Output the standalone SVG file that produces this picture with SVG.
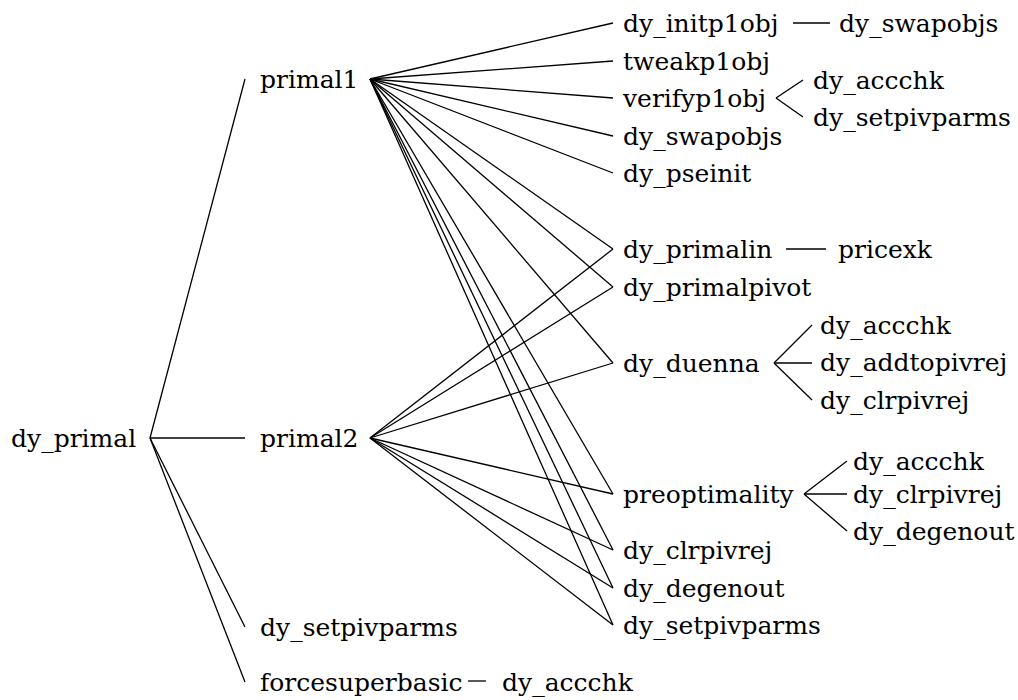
<svg xmlns="http://www.w3.org/2000/svg" width="1018" height="700" viewBox="0 0 1018 700">
<style>
text { font-family: "DejaVu Serif", "Liberation Serif", serif; font-size: 25px; fill: #000; }
.e line { stroke: #000; stroke-width: 1.3; fill: none; }
</style>
<rect width="1018" height="700" fill="#fff"/>
<g class="e" id="connectors">
<line x1="150" y1="438" x2="245" y2="79"/>
<line x1="150" y1="438" x2="245" y2="438"/>
<line x1="150" y1="438" x2="245" y2="627"/>
<line x1="150" y1="438" x2="245" y2="682"/>
<line x1="370" y1="79" x2="613" y2="23"/>
<line x1="370" y1="79" x2="613" y2="61"/>
<line x1="370" y1="79" x2="613" y2="98"/>
<line x1="370" y1="79" x2="613" y2="136"/>
<line x1="370" y1="79" x2="613" y2="173"/>
<line x1="370" y1="79" x2="613" y2="249"/>
<line x1="370" y1="79" x2="613" y2="287"/>
<line x1="370" y1="79" x2="613" y2="363"/>
<line x1="370" y1="79" x2="613" y2="494"/>
<line x1="370" y1="79" x2="613" y2="550"/>
<line x1="370" y1="79" x2="613" y2="588"/>
<line x1="370" y1="79" x2="613" y2="625"/>
<line x1="370" y1="438" x2="613" y2="249"/>
<line x1="370" y1="438" x2="613" y2="287"/>
<line x1="370" y1="438" x2="613" y2="363"/>
<line x1="370" y1="438" x2="613" y2="494"/>
<line x1="370" y1="438" x2="613" y2="550"/>
<line x1="370" y1="438" x2="613" y2="588"/>
<line x1="370" y1="438" x2="613" y2="625"/>
<line x1="793" y1="23" x2="830" y2="23"/>
<line x1="776" y1="98" x2="803" y2="80"/>
<line x1="776" y1="98" x2="803" y2="117"/>
<line x1="786" y1="249" x2="826" y2="249"/>
<line x1="774" y1="363" x2="812" y2="325"/>
<line x1="774" y1="363" x2="812" y2="363"/>
<line x1="774" y1="363" x2="812" y2="400"/>
<line x1="804" y1="494" x2="847" y2="461"/>
<line x1="804" y1="494" x2="847" y2="494"/>
<line x1="804" y1="494" x2="847" y2="531"/>
<line x1="468" y1="681" x2="486" y2="681"/>
</g>
<g id="n_dy_primal"><text x="11" y="447">dy_primal</text></g>
<g id="n_primal1"><text x="260" y="88">primal1</text></g>
<g id="n_primal2"><text x="260" y="447">primal2</text></g>
<g id="n_dy_setpivparms_l"><text x="260" y="636">dy_setpivparms</text></g>
<g id="n_forcesuperbasic"><text x="260" y="691">forcesuperbasic</text></g>
<g id="n_dy_accchk_f"><text x="502" y="691">dy_accchk</text></g>
<g id="n_dy_initp1obj"><text x="623" y="32">dy_initp1obj</text></g>
<g id="n_tweakp1obj"><text x="623" y="70">tweakp1obj</text></g>
<g id="n_verifyp1obj"><text x="623" y="107">verifyp1obj</text></g>
<g id="n_dy_swapobjs"><text x="623" y="145">dy_swapobjs</text></g>
<g id="n_dy_pseinit"><text x="623" y="182">dy_pseinit</text></g>
<g id="n_dy_primalin"><text x="623" y="258">dy_primalin</text></g>
<g id="n_dy_primalpivot"><text x="623" y="296">dy_primalpivot</text></g>
<g id="n_dy_duenna"><text x="623" y="372">dy_duenna</text></g>
<g id="n_preoptimality"><text x="623" y="503">preoptimality</text></g>
<g id="n_dy_clrpivrej"><text x="623" y="559">dy_clrpivrej</text></g>
<g id="n_dy_degenout"><text x="623" y="597">dy_degenout</text></g>
<g id="n_dy_setpivparms_r"><text x="623" y="634">dy_setpivparms</text></g>
<g id="n_dy_swapobjs_2"><text x="839" y="32">dy_swapobjs</text></g>
<g id="n_dy_accchk_v"><text x="813" y="89">dy_accchk</text></g>
<g id="n_dy_setpivparms_v"><text x="813" y="126">dy_setpivparms</text></g>
<g id="n_pricexk"><text x="838" y="258">pricexk</text></g>
<g id="n_dy_accchk_d"><text x="820" y="334">dy_accchk</text></g>
<g id="n_dy_addtopivrej"><text x="820" y="371">dy_addtopivrej</text></g>
<g id="n_dy_clrpivrej_d"><text x="820" y="409">dy_clrpivrej</text></g>
<g id="n_dy_accchk_p"><text x="853" y="470">dy_accchk</text></g>
<g id="n_dy_clrpivrej_p"><text x="853" y="503">dy_clrpivrej</text></g>
<g id="n_dy_degenout_p"><text x="853" y="540">dy_degenout</text></g>
</svg>
